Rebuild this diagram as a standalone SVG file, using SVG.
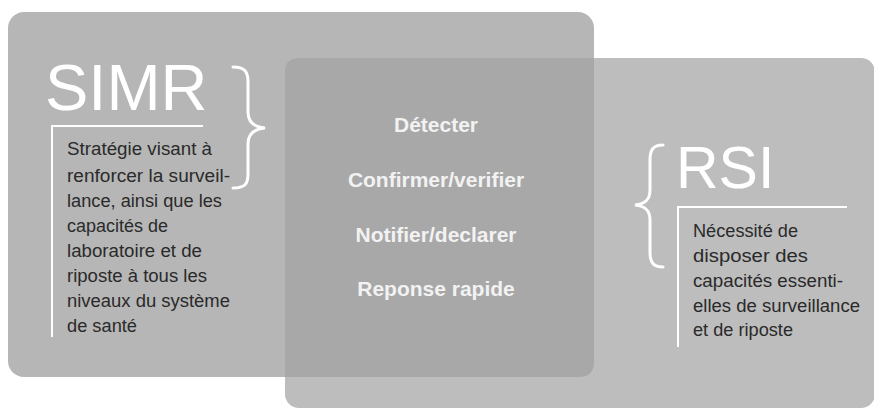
<svg xmlns="http://www.w3.org/2000/svg" width="874" height="410" viewBox="0 0 874 410">
  <style>
    .big { font-family: "Liberation Sans", Arial, sans-serif; fill: #ffffff; }
    .para { font-family: "Liberation Sans", Arial, sans-serif; font-size: 17.5px; fill: #2a2a2a; }
    .step { font-family: "Liberation Sans", Arial, sans-serif; font-size: 21px; font-weight: bold; fill: #f2f2f2; text-anchor: middle; }
    .line { stroke: #ffffff; stroke-width: 2; fill: none; }
    .brace { stroke: #ffffff; stroke-width: 3; fill: none; stroke-linecap: round; }
  </style>
  <rect width="874" height="410" fill="#ffffff"/>
  <g id="simr">
    <rect x="8" y="12" width="586" height="365" rx="16" fill="#b6b6b6"/>
  </g>
  <g id="rsi">
    <rect x="285" y="58" width="590" height="350" rx="14" fill="#bdbdbd"/>
  </g>
  <g id="overlap">
    <path d="M299,58 L594,58 L594,362 Q594,377 579,377 L285,377 L285,72 Q285,58 299,58 Z" fill="#a8a8a8"/>
    <text class="step" x="436" y="132">Détecter</text>
    <text class="step" x="436" y="187">Confirmer/verifier</text>
    <text class="step" x="436" y="242">Notifier/declarer</text>
    <text class="step" x="436" y="296">Reponse rapide</text>
  </g>
  <g id="simr-content">
    <text class="big" x="45" y="110" font-size="65">SIMR</text>
    <path class="brace" d="M233,67 C245,67 248,72 248,82 L248,112 C248,122 254,127 265,128 C254,129 248,134 248,144 L248,174 C248,184 245,188 233,188"/>
    <path class="line" d="M203,126 L52,126 L52,337"/>
    <text class="para" x="67" y="155" textLength="145" lengthAdjust="spacingAndGlyphs">Stratégie visant à</text>
    <text class="para" x="67" y="182" textLength="163" lengthAdjust="spacingAndGlyphs">renforcer la surveil-</text>
    <text class="para" x="67" y="207" textLength="155" lengthAdjust="spacingAndGlyphs">lance, ainsi que les</text>
    <text class="para" x="67" y="232" textLength="101" lengthAdjust="spacingAndGlyphs">capacités de</text>
    <text class="para" x="67" y="257" textLength="135" lengthAdjust="spacingAndGlyphs">laboratoire et de</text>
    <text class="para" x="67" y="282" textLength="140" lengthAdjust="spacingAndGlyphs">riposte à tous les</text>
    <text class="para" x="67" y="307" textLength="163" lengthAdjust="spacingAndGlyphs">niveaux du système</text>
    <text class="para" x="67" y="332" textLength="70" lengthAdjust="spacingAndGlyphs">de santé</text>
  </g>
  <g id="rsi-content">
    <text class="big" x="676" y="188" font-size="59">RSI</text>
    <path class="brace" d="M663,145 C653,145 650,150 650,160 L650,190 C650,200 645,204 635,205 C645,206 650,210 650,220 L650,252 C650,262 653,267 663,267"/>
    <path class="line" d="M847,207 L678,207 L678,347"/>
    <text class="para" x="693" y="237" textLength="105" lengthAdjust="spacingAndGlyphs">Nécessité de</text>
    <text class="para" x="693" y="262" textLength="115" lengthAdjust="spacingAndGlyphs">disposer des</text>
    <text class="para" x="693" y="287" textLength="150" lengthAdjust="spacingAndGlyphs">capacités essenti-</text>
    <text class="para" x="693" y="312" textLength="167" lengthAdjust="spacingAndGlyphs">elles de surveillance</text>
    <text class="para" x="693" y="336" textLength="100" lengthAdjust="spacingAndGlyphs">et de riposte</text>
  </g>
</svg>
